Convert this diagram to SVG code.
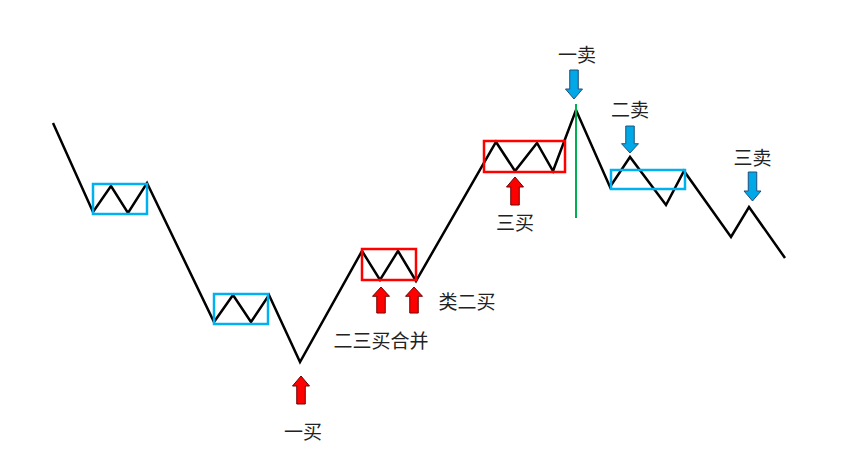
<svg xmlns="http://www.w3.org/2000/svg" xmlns:xlink="http://www.w3.org/1999/xlink" width="844" height="454" viewBox="0 0 844 454">
<style>
.line{fill:none;stroke:#000;stroke-width:2.5;stroke-linejoin:miter}
.bbox{fill:none;stroke:#00B0F0;stroke-width:2.5}
.rbox{fill:none;stroke:#FF0000;stroke-width:2.5}
.up{fill:#FF0000;stroke:#6B0000;stroke-width:1}
.dn{fill:#00A8E8;stroke:#1F4E79;stroke-width:1}
.lbl{font-family:"Noto Sans CJK SC","Noto Sans",sans-serif;font-size:19px;fill:#222;text-anchor:middle}
</style>
<defs>
<path id="upA" d="M0,0 L8.5,10 L4.25,10 L4.25,28 L-4.25,28 L-4.25,10 L-8.5,10 Z"/>
<path id="dnA" d="M0,0 L8.5,-10 L4.25,-10 L4.25,-29 L-4.25,-29 L-4.25,-10 L-8.5,-10 Z"/>
</defs>
<rect width="844" height="454" fill="#fff"/>
<g id="connectors">
<polyline class="line" points="53,123 93,212 111,186 128,213 147,183 214,322 233,295 251,322 269,295 300,362 362,251 380,280 398,251 416,281 496,142 515,171 537,143 553,171 576,110 610,187 630,157 666,205 684,171 731,237 749,207 785,258"/>
<line x1="576" y1="104" x2="576" y2="218" stroke="#00B050" stroke-width="2"/>
</g>
<g id="box-down1"><rect class="bbox" x="93" y="184" width="54" height="30"/></g>
<g id="box-down2"><rect class="bbox" x="214" y="294" width="54" height="30"/></g>
<g id="box-up1"><rect class="rbox" x="362" y="249" width="54" height="31"/></g>
<g id="box-up2"><rect class="rbox" x="484" y="141" width="81" height="31"/></g>
<g id="box-down3"><rect class="bbox" x="611" y="170" width="74" height="19"/></g>
<g id="buy1"><use xlink:href="#upA" class="up" x="301" y="376"/><text class="lbl" x="303" y="439">一买</text></g>
<g id="buy23"><use xlink:href="#upA" class="up" transform="translate(381,287) scale(1,0.93)"/><text class="lbl" x="381" y="348">二三买合并</text></g>
<g id="buy2like"><use xlink:href="#upA" class="up" transform="translate(414,287) scale(1,0.93)"/><text class="lbl" x="467" y="309">类二买</text></g>
<g id="buy3"><use xlink:href="#upA" class="up" x="515" y="177"/><text class="lbl" x="515" y="230">三买</text></g>
<g id="sell1"><use xlink:href="#dnA" class="dn" x="574" y="99"/><text class="lbl" x="577" y="62">一卖</text></g>
<g id="sell2"><use xlink:href="#dnA" class="dn" transform="translate(630,153) scale(1,0.93)"/><text class="lbl" x="630" y="117">二卖</text></g>
<g id="sell3"><use xlink:href="#dnA" class="dn" x="752.5" y="201"/><text class="lbl" x="752.5" y="165">三卖</text></g>
</svg>
